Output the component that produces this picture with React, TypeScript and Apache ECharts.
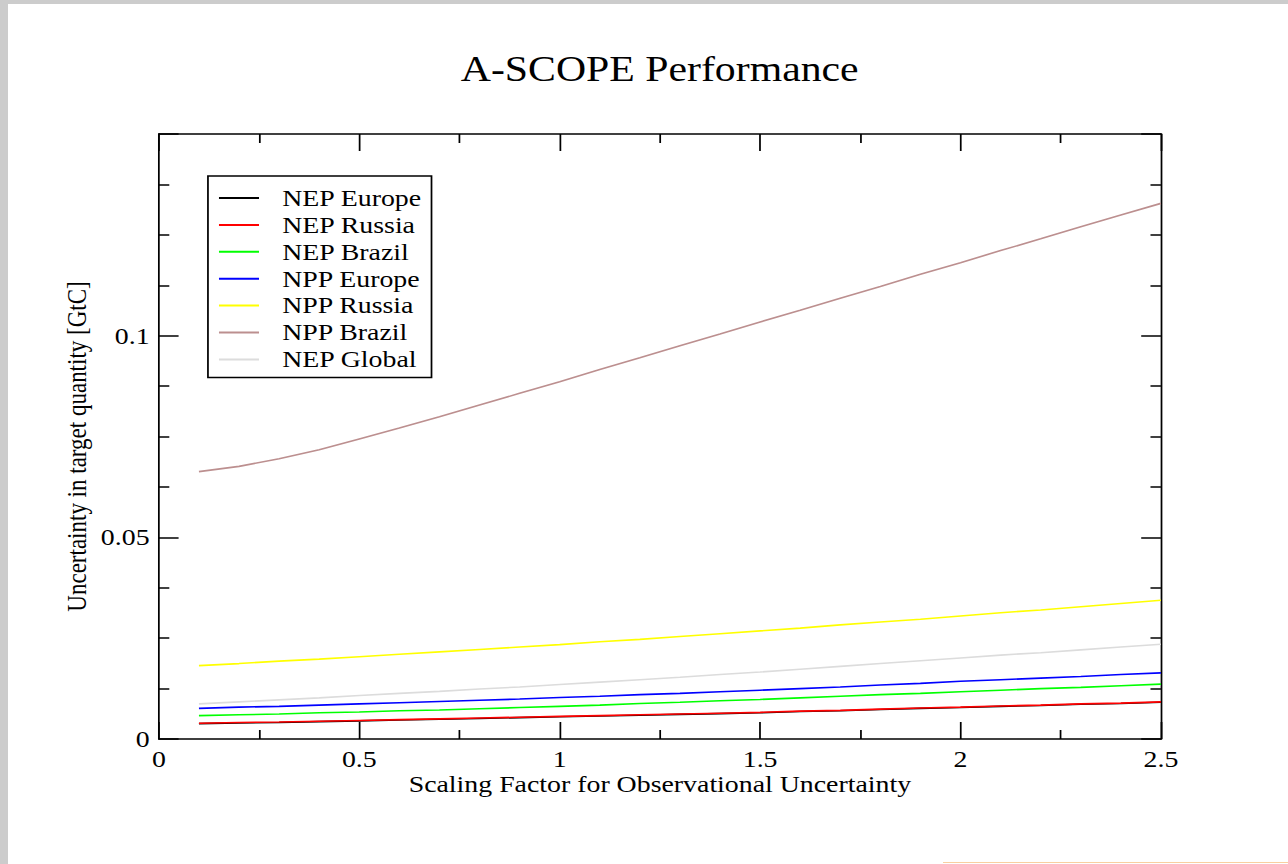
import React, { useEffect, useRef } from "react";
import * as echarts from "echarts";

// ---- data ----
const scalingFactor = [0.1, 0.2, 0.3, 0.4, 0.5, 0.6, 0.7, 0.8, 0.9, 1.0, 1.1, 1.2, 1.3, 1.4, 1.5, 1.6, 1.7, 1.8, 1.9, 2.0, 2.1, 2.2, 2.3, 2.4, 2.5];
const nepEurope = [0.0038, 0.0040, 0.0041, 0.0043, 0.0045, 0.0047, 0.0049, 0.0051, 0.0053, 0.0055, 0.0057, 0.0059, 0.0061, 0.0063, 0.0065, 0.0068, 0.0070, 0.0073, 0.0076, 0.0078, 0.0081, 0.0083, 0.0086, 0.0088, 0.0091];
const nepRussia = [0.0039, 0.0041, 0.0042, 0.0044, 0.0046, 0.0048, 0.0050, 0.0052, 0.0054, 0.0056, 0.0058, 0.0060, 0.0062, 0.0064, 0.0066, 0.0069, 0.0071, 0.0074, 0.0077, 0.0079, 0.0082, 0.0084, 0.0087, 0.0089, 0.0092];
const nepBrazil = [0.0058, 0.0060, 0.0062, 0.0065, 0.0067, 0.0070, 0.0072, 0.0075, 0.0078, 0.0081, 0.0084, 0.0088, 0.0091, 0.0095, 0.0098, 0.0102, 0.0106, 0.0110, 0.0113, 0.0117, 0.0121, 0.0125, 0.0128, 0.0132, 0.0136];
const nppEurope = [0.0076, 0.0079, 0.0081, 0.0084, 0.0087, 0.0090, 0.0093, 0.0096, 0.0099, 0.0103, 0.0106, 0.0110, 0.0113, 0.0117, 0.0121, 0.0125, 0.0129, 0.0134, 0.0138, 0.0143, 0.0147, 0.0151, 0.0155, 0.0160, 0.0164];
const nppRussia = [0.0182, 0.0187, 0.0193, 0.0198, 0.0204, 0.0210, 0.0216, 0.0222, 0.0228, 0.0234, 0.0241, 0.0247, 0.0254, 0.0261, 0.0268, 0.0275, 0.0283, 0.0290, 0.0297, 0.0305, 0.0313, 0.0320, 0.0328, 0.0336, 0.0344];
const nppBrazil = [0.0663, 0.0676, 0.0695, 0.0717, 0.0744, 0.0771, 0.0799, 0.0828, 0.0857, 0.0886, 0.0916, 0.0945, 0.0975, 0.1004, 0.1034, 0.1063, 0.1093, 0.1122, 0.1152, 0.1181, 0.1211, 0.1240, 0.1270, 0.1299, 0.1328];
const nepGlobal = [0.0087, 0.0092, 0.0097, 0.0102, 0.0108, 0.0113, 0.0118, 0.0124, 0.0129, 0.0135, 0.0141, 0.0147, 0.0153, 0.0160, 0.0166, 0.0173, 0.0180, 0.0187, 0.0194, 0.0201, 0.0208, 0.0214, 0.0221, 0.0228, 0.0235];

const seriesNames = ["NEP Europe", "NEP Russia", "NEP Brazil", "NPP Europe", "NPP Russia", "NPP Brazil", "NEP Global"];
const seriesValues = [nepEurope, nepRussia, nepBrazil, nppEurope, nppRussia, nppBrazil, nepGlobal];
const seriesColors = ["#000000", "#ff0000", "#00ff00", "#0000ff", "#ffff00", "#bc8f8f", "#dcdcdc"];

const chartTitle = "A-SCOPE Performance";
const xAxisTitle = "Scaling Factor for Observational Uncertainty";
const yAxisTitle = "Uncertainty in target quantity [GtC]";

// ---- layout ----
const CHART_W = 1103;
const CHART_H = 860;
const STRETCH = 1280 / CHART_W;
const FONT = "'Liberation Serif', 'Times New Roman', Times, serif";

export default function App() {
  const ref = useRef<HTMLDivElement>(null);

  useEffect(() => {
    if (!ref.current) return;
    const chart = echarts.init(ref.current, null, { renderer: "svg", width: CHART_W, height: CHART_H });

    const axisLine = { show: true, onZero: false, lineStyle: { color: "#000", width: 1.5 } };
    const axisTick = { show: true, inside: true, length: 17, lineStyle: { color: "#000", width: 1.5 } };

    const xBase = {
      type: "value",
      min: 0,
      max: 2.5,
      interval: 0.5,
      axisLine,
      axisTick,
      minorTick: { show: true, splitNumber: 2, length: 9, lineStyle: { color: "#000", width: 1.5 } },
      splitLine: { show: false },
      minorSplitLine: { show: false },
    };
    const yBase = {
      type: "value",
      min: 0,
      max: 0.15,
      interval: 0.05,
      axisLine,
      axisTick,
      minorTick: { show: true, splitNumber: 4, length: 9, lineStyle: { color: "#000", width: 1.5 } },
      splitLine: { show: false },
      minorSplitLine: { show: false },
    };

    chart.setOption({
      animation: false,
      backgroundColor: "#ffffff",
      title: {
        text: chartTitle,
        left: 556.6,
        top: 42,
        textAlign: "center",
        textStyle: { fontFamily: FONT, fontSize: 36, fontWeight: "normal", color: "#000" },
      },
      legend: {
        orient: "vertical",
        left: 172.3,
        top: 172,
        data: seriesNames,
        icon: "rect",
        itemWidth: 34.5,
        itemHeight: 2,
        itemGap: 2.9,
        padding: [10, 8, 6, 9.5],
        borderColor: "#000",
        borderWidth: 1.5,
        selectedMode: false,
        textStyle: { fontFamily: FONT, fontSize: 24, color: "#000", padding: [0, 0, 0, 15] },
      },
      grid: { left: 130, right: 109.5, top: 130, bottom: 125, outerBoundsMode: "none" },
      xAxis: [
        {
          ...xBase,
          position: "bottom",
          name: xAxisTitle,
          nameLocation: "middle",
          nameGap: 33,
          nameMoveOverlap: false,
          nameTextStyle: { fontFamily: FONT, fontSize: 24, color: "#000" },
          axisLabel: { margin: 8, fontFamily: FONT, fontSize: 24, color: "#000" },
        },
        { ...xBase, position: "top", axisLabel: { show: false } },
      ],
      yAxis: [
        {
          ...yBase,
          position: "left",
          name: yAxisTitle,
          nameLocation: "middle",
          nameGap: 59,
          nameMoveOverlap: false,
          nameTextStyle: { fontFamily: FONT, fontSize: 23, color: "#000", padding: [0, 20, 0, 0] },
          axisLabel: { margin: 8, fontFamily: FONT, fontSize: 24, color: "#000", showMaxLabel: false },
        },
        { ...yBase, position: "right", axisLabel: { show: false } },
      ],
      series: seriesNames.map((name, i) => ({
        type: "line",
        name,
        xAxisIndex: 0,
        yAxisIndex: 0,
        data: scalingFactor.map((x, j) => [x, seriesValues[i][j]]),
        showSymbol: false,
        symbol: "none",
        lineStyle: { color: seriesColors[i], width: 1.6 },
        itemStyle: { color: seriesColors[i] },
        emphasis: { disabled: true },
      })),
    });

    return () => chart.dispose();
  }, []);

  return (
    <div style={{ position: "fixed", left: 0, top: 0, width: 1288, height: 864, background: "#cccccc", overflow: "hidden" }}>
      <div style={{ position: "absolute", left: 8, top: 4, width: 1280, height: 860, background: "#ffffff", overflow: "hidden" }}>
        <div
          ref={ref}
          style={{
            position: "absolute",
            left: 0,
            top: 0,
            width: CHART_W,
            height: CHART_H,
            transform: `scaleX(${STRETCH})`,
            transformOrigin: "0 0",
          }}
        />
        <div style={{ position: "absolute", left: 935, top: 858, width: 345, height: 0, borderTop: "1px solid #f9cfa0" }} />
      </div>
    </div>
  );
}
